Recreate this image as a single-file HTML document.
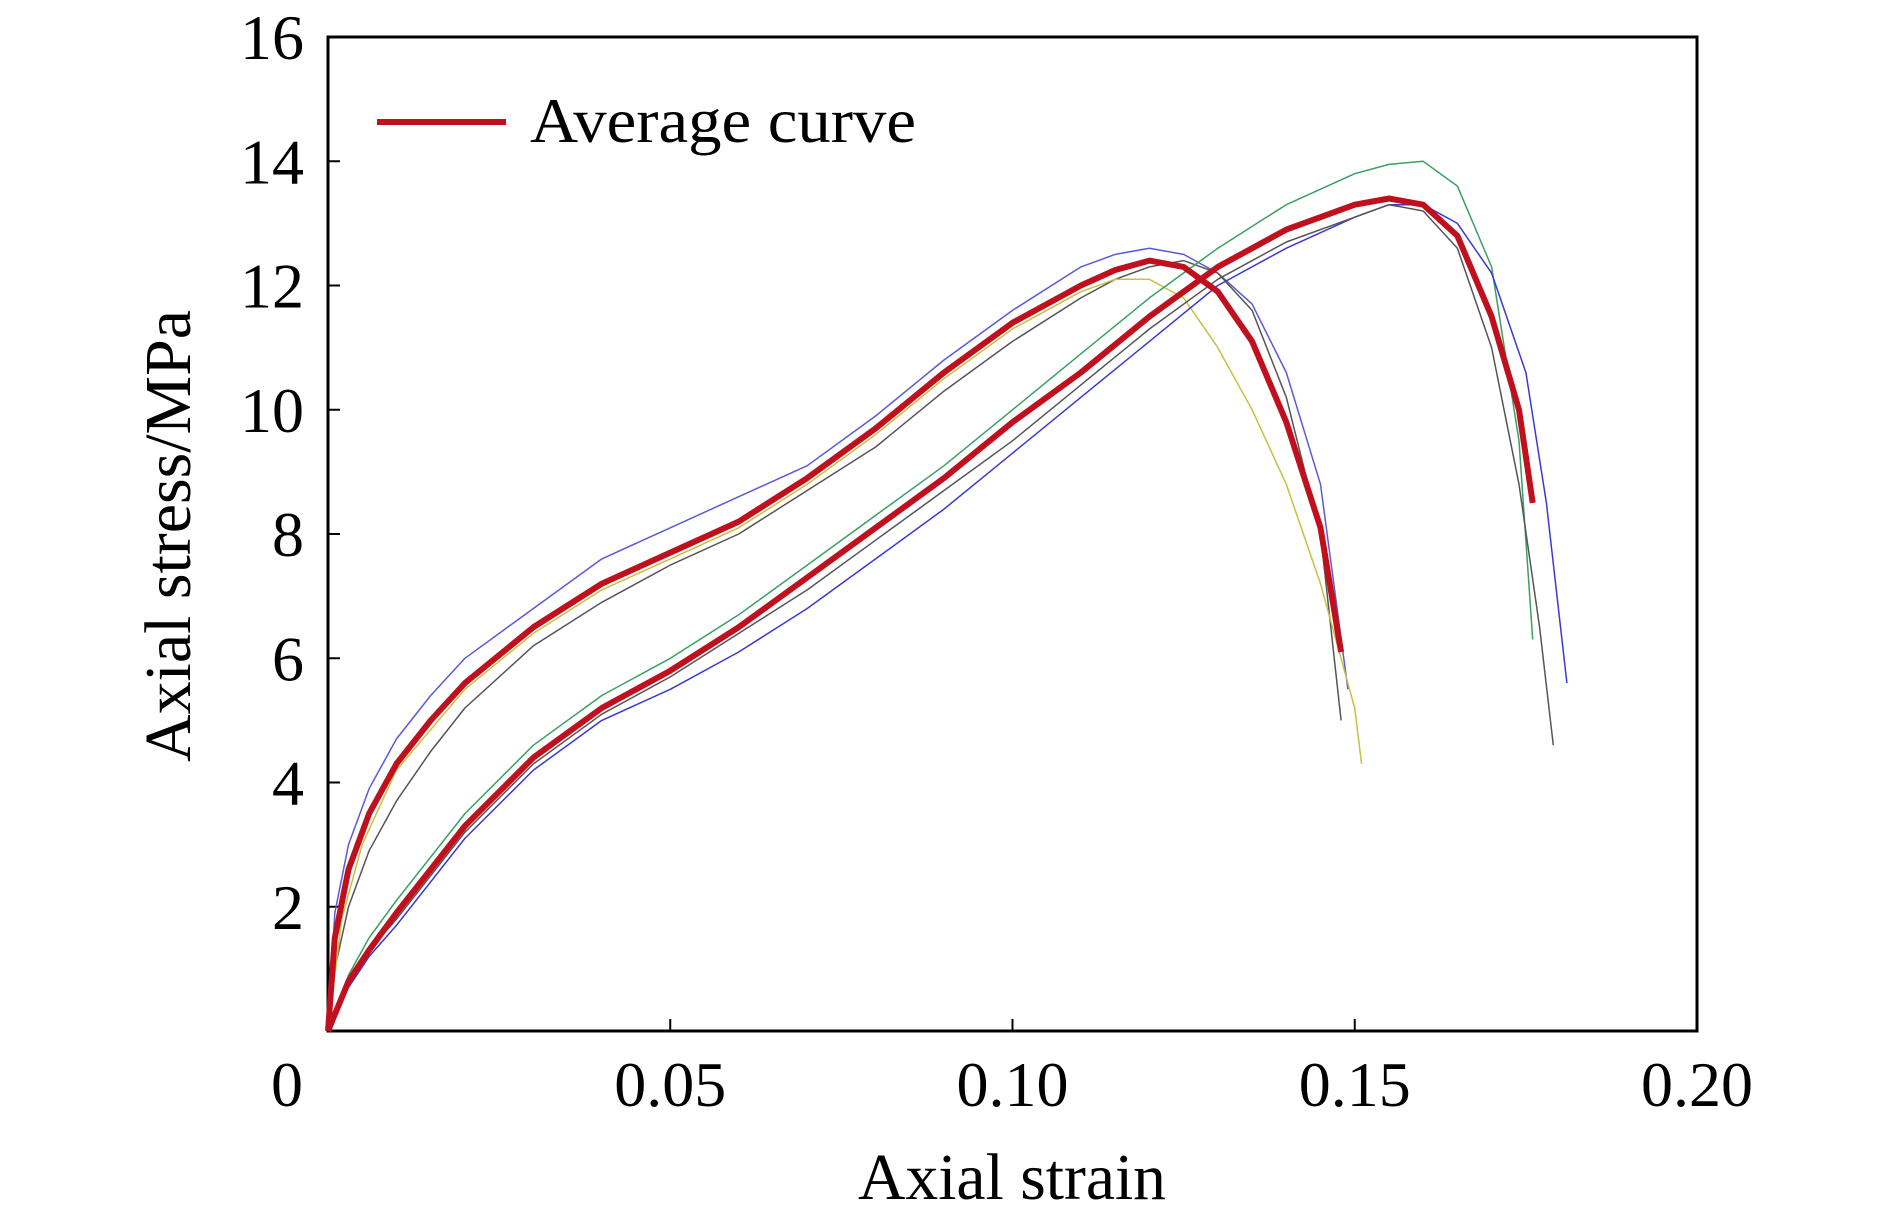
<!DOCTYPE html>
<html><head><meta charset="utf-8"><style>
html,body{margin:0;padding:0;background:#fff;}
svg{display:block;}
text{font-family:"Liberation Serif",serif;fill:#000;}
</style></head><body>
<svg id="chart" width="1890" height="1217">
<rect x="328" y="37" width="1369" height="994" fill="none" stroke="#000" stroke-width="3"/>
<g id="ticks"></g>
<g id="thin"></g>
<g id="avg"></g>
<g>
<line x1="377" y1="122" x2="506" y2="122" stroke="#c0101e" stroke-width="6"/>
<text x="530" y="142" font-size="64" textLength="386" lengthAdjust="spacingAndGlyphs">Average curve</text>
</g>
<text x="1012" y="1199" font-size="66" text-anchor="middle" textLength="308" lengthAdjust="spacingAndGlyphs">Axial strain</text>
<text x="0" y="0" font-size="66" text-anchor="middle" textLength="452" lengthAdjust="spacingAndGlyphs" transform="translate(190,536) rotate(-90)">Axial stress/MPa</text>
</svg>
<script>
const xTicks=[0,0.05,0.10,0.15,0.20];
const xTickLabels=["0","0.05","0.10","0.15","0.20"];
const yTicks=[2,4,6,8,10,12,14,16];
const yTickLabels=["2","4","6","8","10","12","14","16"];
const avgAStrain=[0,0.001,0.003,0.006,0.01,0.015,0.02,0.03,0.04,0.05,0.06,0.07,0.08,0.09,0.10,0.11,0.115,0.12,0.125,0.13,0.135,0.14,0.145,0.148];
const avgAStress=[0,1.5,2.6,3.5,4.3,5.0,5.6,6.5,7.2,7.7,8.2,8.9,9.7,10.6,11.4,12.0,12.25,12.4,12.3,11.9,11.1,9.8,8.1,6.1];
const avgBStrain=[0,0.003,0.006,0.01,0.02,0.03,0.04,0.05,0.06,0.07,0.08,0.09,0.10,0.11,0.12,0.13,0.14,0.15,0.155,0.16,0.165,0.17,0.174,0.176];
const avgBStress=[0,0.8,1.3,1.9,3.3,4.4,5.2,5.8,6.5,7.3,8.1,8.9,9.8,10.6,11.5,12.3,12.9,13.3,13.4,13.3,12.8,11.5,10.0,8.5];
const thinA1Strain=[0,0.001,0.003,0.006,0.01,0.015,0.02,0.03,0.04,0.05,0.06,0.07,0.08,0.09,0.10,0.11,0.115,0.12,0.125,0.13,0.135,0.14,0.145,0.149];
const thinA1Stress=[0,1.9,3.0,3.9,4.7,5.4,6.0,6.8,7.6,8.1,8.6,9.1,9.9,10.8,11.6,12.3,12.5,12.6,12.5,12.2,11.7,10.6,8.8,5.5];
const thinA2Strain=[0,0.001,0.003,0.006,0.01,0.015,0.02,0.03,0.04,0.05,0.06,0.07,0.08,0.09,0.10,0.11,0.115,0.12,0.125,0.13,0.135,0.14,0.145,0.148];
const thinA2Stress=[0,1.0,2.0,2.9,3.7,4.5,5.2,6.2,6.9,7.5,8.0,8.7,9.4,10.3,11.1,11.8,12.1,12.3,12.4,12.2,11.6,10.2,8.0,5.0];
const thinA3Strain=[0,0.002,0.005,0.01,0.02,0.03,0.04,0.05,0.06,0.07,0.08,0.09,0.10,0.11,0.115,0.12,0.125,0.13,0.135,0.14,0.145,0.15,0.151];
const thinA3Stress=[0,1.8,3.0,4.2,5.5,6.4,7.1,7.6,8.1,8.8,9.6,10.5,11.3,11.9,12.1,12.1,11.8,11.0,10.0,8.8,7.2,5.2,4.3];
const thinB1Strain=[0,0.003,0.006,0.01,0.02,0.03,0.04,0.05,0.06,0.07,0.08,0.09,0.10,0.11,0.12,0.13,0.14,0.15,0.155,0.16,0.165,0.17,0.174,0.176];
const thinB1Stress=[0,0.9,1.5,2.1,3.5,4.6,5.4,6.0,6.7,7.5,8.3,9.1,10.0,10.9,11.8,12.6,13.3,13.8,13.95,14.0,13.6,12.3,9.5,6.3];
const thinB2Strain=[0,0.003,0.006,0.01,0.02,0.03,0.04,0.05,0.06,0.07,0.08,0.09,0.10,0.11,0.12,0.13,0.14,0.15,0.155,0.16,0.165,0.17,0.175,0.178,0.181];
const thinB2Stress=[0,0.7,1.2,1.7,3.1,4.2,5.0,5.5,6.1,6.8,7.6,8.4,9.3,10.2,11.1,12.0,12.6,13.1,13.3,13.3,13.0,12.2,10.6,8.5,5.6];
const thinB3Strain=[0,0.003,0.006,0.01,0.02,0.03,0.04,0.05,0.06,0.07,0.08,0.09,0.10,0.11,0.12,0.13,0.14,0.15,0.155,0.16,0.165,0.17,0.174,0.177,0.179];
const thinB3Stress=[0,0.8,1.3,1.8,3.2,4.3,5.1,5.7,6.4,7.1,7.9,8.7,9.5,10.4,11.3,12.1,12.7,13.1,13.3,13.2,12.6,11.0,8.8,6.5,4.6];
const X0=328,X1=1697,Y0=1031,Y1=37;
const sx=v=>X0+(v-0)/(0.20-0)*(X1-X0);
const sy=v=>Y0-(v-0)/(16-0)*(Y0-Y1);
const NS="http://www.w3.org/2000/svg";
const tg=document.getElementById('ticks');
xTicks.forEach((t,i)=>{
  if(i>0&&i<xTicks.length-1){const l=document.createElementNS(NS,'line');
  l.setAttribute('x1',sx(t));l.setAttribute('x2',sx(t));l.setAttribute('y1',Y0);l.setAttribute('y2',Y0-12);
  l.setAttribute('stroke','#000');l.setAttribute('stroke-width','2');
  
  
  tg.appendChild(l);}
  const tx=document.createElementNS(NS,'text');
  tx.setAttribute('x',sx(t)-(i==0?41:0));tx.setAttribute('y',1106);tx.setAttribute('font-size','64');tx.setAttribute('text-anchor','middle');
  tx.textContent=xTickLabels[i];
  
  
  tg.appendChild(tx);
});
yTicks.forEach((t,i)=>{
  if(t<16){const l=document.createElementNS(NS,'line');
  l.setAttribute('x1',X0);l.setAttribute('x2',X0+12);l.setAttribute('y1',sy(t));l.setAttribute('y2',sy(t));
  l.setAttribute('stroke','#000');l.setAttribute('stroke-width','2');
  
  
  tg.appendChild(l);}
  const tx=document.createElementNS(NS,'text');
  tx.setAttribute('x',304);tx.setAttribute('y',sy(t)+22);tx.setAttribute('font-size','64');tx.setAttribute('text-anchor','end');
  tx.textContent=yTickLabels[i];
  
  
  tg.appendChild(tx);
});
function path(xs,ys,color,w,g,name){
  const p=document.createElementNS(NS,'path');
  p.setAttribute('d',xs.map((x,i)=>(i?'L':'M')+sx(x).toFixed(1)+','+sy(ys[i]).toFixed(1)).join(''));
  p.setAttribute('fill','none');p.setAttribute('stroke',color);p.setAttribute('stroke-width',w);p.setAttribute('stroke-linejoin','round');
  
  
  document.getElementById(g).appendChild(p);
}
path(thinA1Strain,thinA1Stress,'#5a5ad8',1.5,'thin','specimen-a1');
path(thinA2Strain,thinA2Stress,'#555',1.5,'thin','specimen-a2');
path(thinA3Strain,thinA3Stress,'#c8c040',1.5,'thin','specimen-a3');
path(thinB1Strain,thinB1Stress,'#3aa060',1.5,'thin','specimen-b1');
path(thinB2Strain,thinB2Stress,'#3a3ad0',1.5,'thin','specimen-b2');
path(thinB3Strain,thinB3Stress,'#555',1.5,'thin','specimen-b3');
path(avgAStrain,avgAStress,'#c0101e',6,'avg','average-curve-a');
path(avgBStrain,avgBStress,'#c0101e',6,'avg','average-curve-b');
</script>
</body></html>
